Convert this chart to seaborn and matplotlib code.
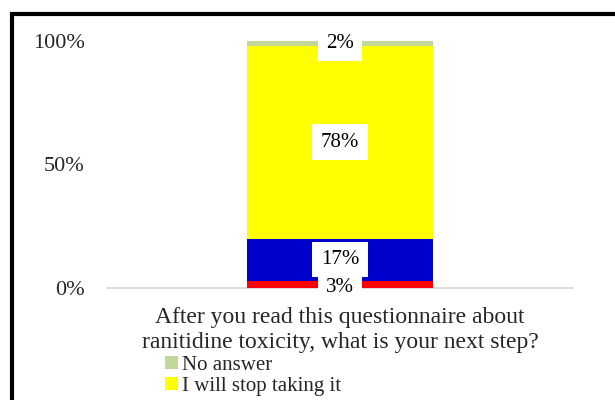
import matplotlib
matplotlib.use("Agg")
import matplotlib.pyplot as plt
from matplotlib.patches import Rectangle, Patch
import seaborn as sns
import pandas as pd
import numpy as np

category = ["After you read this questionnaire about\nranitidine toxicity, what is your next step?"]
# stacked from bottom to top
series_names = ["Option 1", "Option 2", "I will stop taking it", "No answer"]
series_values = [3, 17, 78, 2]
series_colors = ["#FF0000", "#0000CC", "#FFFF00", "#C4D79B"]
legend_names = ["No answer", "I will stop taking it"]
yticks = [0, 50, 100]
ytick_labels = ["0%", "50%", "100%"]

sns.set_theme(style="white")
plt.rcParams["font.family"] = ["Liberation Serif", "DejaVu Serif"]

fig = plt.figure(figsize=(6.15, 4.0), dpi=100)
ax = fig.add_axes([107/615, 1-288/400, (573-107)/615, (288-41)/400])

cum = np.cumsum(series_values)
# draw cumulative bars top-down so lower segments overlay
for i in range(len(series_values)-1, -1, -1):
    df = pd.DataFrame({"cat": category, "val": [cum[i]]})
    sns.barplot(data=df, x="cat", y="val", color=series_colors[i], width=0.4,
                saturation=1, ax=ax, zorder=2, edgecolor="none", linewidth=0)

for i, v in enumerate(series_values):
    dy = -2 if i == 0 else 0
    ax.annotate(f"{v}%", xy=(0, cum[i] - v/2), xytext=(0, dy), textcoords="offset points",
                ha="center", va="center", fontsize=15, color="black",
                zorder=10 - i,
                bbox=dict(boxstyle="square,pad=0.4", facecolor="white", edgecolor="none"))

ax.set_xlim(-0.5, 0.5)
ax.set_ylim(0, 100)
ax.set_yticks(yticks)
ax.set_yticklabels(ytick_labels, fontsize=16)
ax.set_xlabel("")
ax.set_ylabel("")
ax.tick_params(axis="y", length=0, pad=16)
ax.tick_params(axis="x", length=0, pad=14, labelsize=17)
for lbl in ax.get_xticklabels():
    lbl.set_linespacing(1.2)
for s in ["top", "right", "left"]:
    ax.spines[s].set_visible(False)
ax.spines["bottom"].set_color("#D9D9D9")
ax.spines["bottom"].set_linewidth(1.2)
ax.spines["bottom"].set_zorder(1)

handles = [Patch(facecolor=series_colors[series_names.index(n)], edgecolor="none") for n in legend_names]
fig.legend(handles, legend_names, loc="upper left", bbox_to_anchor=(165/615, 1-356/400),
           frameon=False, fontsize=15, handlelength=0.6, handleheight=0.6,
           handletextpad=0.2, labelspacing=0.08, borderpad=0, borderaxespad=0)

fig.patches.append(Rectangle((11.5/615, -0.2), 1.5, 1.2 - 13.5/400 + 0.0, transform=fig.transFigure,
                             fill=False, edgecolor="black", linewidth=3, zorder=10))

fig.savefig("out.png", dpi=100)
